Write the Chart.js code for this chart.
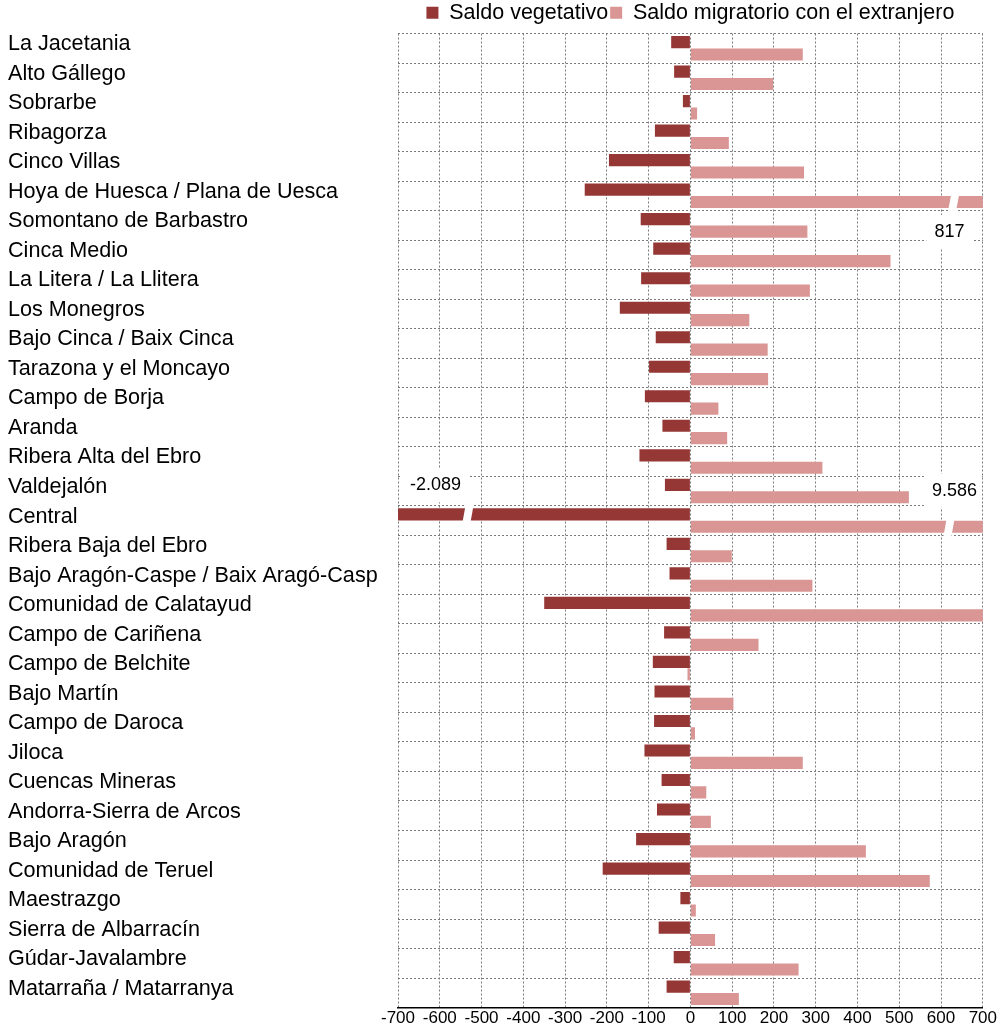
<!DOCTYPE html>
<html>
<head>
<meta charset="utf-8">
<script src="https://cdn.jsdelivr.net/npm/chart.js@4.4.1/dist/chart.umd.min.js"></script>
<style>
  body { margin: 0; background: #fff; }
  #wrap { width: 998px; height: 1030px; }
</style>
</head>
<body>
<div id="wrap"><canvas id="chart"></canvas></div>
<script>
const comarcas = [
  "La Jacetania", "Alto Gállego", "Sobrarbe", "Ribagorza", "Cinco Villas",
  "Hoya de Huesca / Plana de Uesca", "Somontano de Barbastro", "Cinca Medio",
  "La Litera / La Llitera", "Los Monegros", "Bajo Cinca / Baix Cinca",
  "Tarazona y el Moncayo", "Campo de Borja", "Aranda", "Ribera Alta del Ebro",
  "Valdejalón", "Central", "Ribera Baja del Ebro",
  "Bajo Aragón-Caspe / Baix Aragó-Casp", "Comunidad de Calatayud",
  "Campo de Cariñena", "Campo de Belchite", "Bajo Martín", "Campo de Daroca",
  "Jiloca", "Cuencas Mineras", "Andorra-Sierra de Arcos", "Bajo Aragón",
  "Comunidad de Teruel", "Maestrazgo", "Sierra de Albarracín",
  "Gúdar-Javalambre", "Matarraña / Matarranya"
];

const saldoVegetativo = [
  -46, -39, -18, -85, -195, -253, -119, -89, -118, -169, -83, -99, -109, -67,
  -122, -61, -2089, -57, -50, -350, -63, -90, -86, -87, -110, -69, -80, -130,
  -210, -24, -76, -40, -57
];

const saldoMigratorio = [
  269, 198, 16, 92, 272, 817, 280, 479, 286, 141, 185, 186, 67, 88, 316, 523,
  9586, 99, 292, 705, 163, -7, 103, 11, 269, 38, 49, 420, 573, 13, 59, 259, 116
];

const ejeMin = -700;
const ejeMax = 700;
const ejePaso = 100;

// bars cut at the axis edge, with the real value written next to them
const cortes = [
  { serie: 1, fila: 5, valor: 628, texto: "817", tx: 620, dy: 30 },
  { serie: 0, fila: 16, valor: -535, texto: "-2.089", tx: -610, dy: -29 },
  { serie: 1, fila: 16, valor: 617, texto: "9.586", tx: 632, dy: -36 }
];

const cortesPlugin = {
  id: "cortes",
  afterDatasetsDraw(chart) {
    const ctx = chart.ctx;
    const x = chart.scales.x;
    const area = chart.chartArea;
    ctx.save();
    cortes.forEach((c) => {
      const bar = chart.getDatasetMeta(c.serie).data[c.fila];
      const px = x.getPixelForValue(c.valor);
      const h = bar.height / 2 + 5;
      ctx.fillStyle = "#fff";
      ctx.beginPath();
      ctx.moveTo(px - 1, bar.y - h);
      ctx.lineTo(px + 7, bar.y - h);
      ctx.lineTo(px + 3, bar.y + h);
      ctx.lineTo(px - 5, bar.y + h);
      ctx.closePath();
      ctx.fill();

      ctx.font = "18px 'Liberation Sans', Arial, sans-serif";
      const w = ctx.measureText(c.texto).width;
      const cx = x.getPixelForValue(c.tx);
      const cy = bar.y + c.dy;
      const left = Math.max(area.left + 1, cx - w / 2 - 8);
      const right = Math.min(area.right - 1, cx + w / 2 + 8);
      ctx.fillRect(left, cy - 17, right - left, 34);
      ctx.fillStyle = "#000";
      ctx.textAlign = "center";
      ctx.textBaseline = "middle";
      ctx.fillText(c.texto, cx, cy);
    });
    ctx.restore();
  }
};

Chart.defaults.font.family = "'Liberation Sans', Arial, sans-serif";
Chart.defaults.color = "#000";

new Chart(document.getElementById("chart"), {
  type: "bar",
  data: {
    labels: comarcas,
    datasets: [
      {
        label: "Saldo vegetativo",
        data: saldoVegetativo,
        backgroundColor: "#953735",
        clip: 0
      },
      {
        label: "Saldo migratorio con el extranjero",
        data: saldoMigratorio,
        backgroundColor: "#d99694",
        clip: 0
      }
    ]
  },
  options: {
    indexAxis: "y",
    responsive: true,
    maintainAspectRatio: false,
    animation: false,
    categoryPercentage: 0.84,
    barPercentage: 0.98,
    layout: { padding: { left: 8, right: 14, top: 0, bottom: 0 } },
    plugins: {
      legend: {
        position: "top",
        fullSize: false,
        labels: {
          boxWidth: 12,
          boxHeight: 12,
          padding: 2,
          font: { size: 21.5 }
        }
      },
      tooltip: { enabled: false }
    },
    scales: {
      x: {
        min: ejeMin,
        max: ejeMax,
        ticks: { stepSize: ejePaso, padding: 1, font: { size: 17 }, maxRotation: 0, autoSkip: false },
        grid: { color: "#7a7a7a", drawTicks: false },
        border: { display: true, color: "#000", width: 1.5, dash: [2, 2] }
      },
      y: {
        ticks: { crossAlign: "far", labelOffset: -4, font: { size: 21.6 }, autoSkip: false },
        grid: { color: "#7a7a7a", drawTicks: false, offset: true },
        border: { display: false, dash: [2, 2] },
        afterFit(scale) { scale.width = 390; }
      }
    }
  },
  plugins: [cortesPlugin]
});
</script>
</body>
</html>
